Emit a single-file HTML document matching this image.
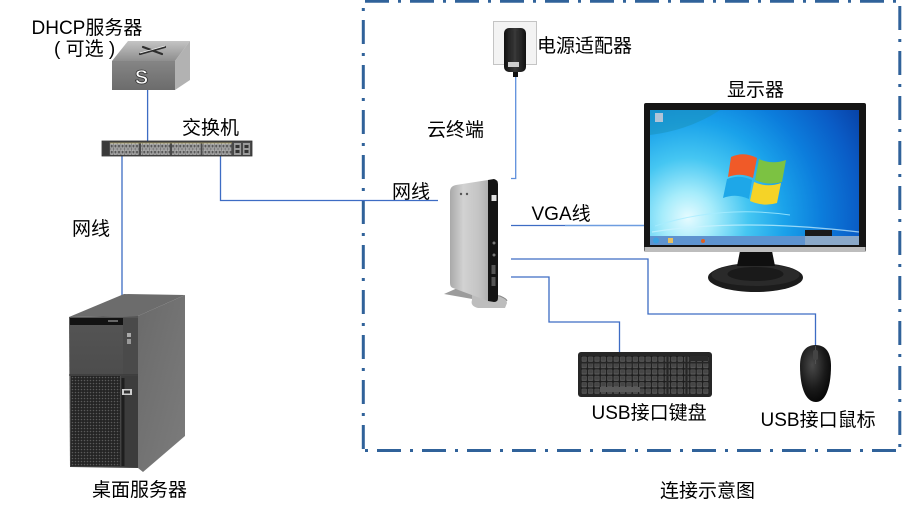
<!DOCTYPE html>
<html><head><meta charset="utf-8">
<style>
html,body{margin:0;padding:0;background:#fff;}
svg{display:block;}
text{font-family:"Liberation Sans","Noto Sans CJK SC",sans-serif;font-size:19px;fill:#000;}
</style></head><body>
<svg width="902" height="512" viewBox="0 0 902 512" xmlns="http://www.w3.org/2000/svg">
<defs>
  <radialGradient id="scr" gradientUnits="userSpaceOnUse" cx="688" cy="218" r="215">
    <stop offset="0" stop-color="#e6fbff"/>
    <stop offset="0.12" stop-color="#a6ecfb"/>
    <stop offset="0.28" stop-color="#45c6f2"/>
    <stop offset="0.45" stop-color="#1aa2ea"/>
    <stop offset="0.62" stop-color="#0c7ddc"/>
    <stop offset="0.8" stop-color="#0a5cc6"/>
    <stop offset="1" stop-color="#07389c"/>
  </radialGradient>
  <linearGradient id="silver" x1="0" y1="0" x2="1" y2="0">
    <stop offset="0" stop-color="#a9a9a9"/>
    <stop offset="0.35" stop-color="#d2d2d2"/>
    <stop offset="0.75" stop-color="#c4c4c4"/>
    <stop offset="1" stop-color="#b0b0b0"/>
  </linearGradient>
  <linearGradient id="side" x1="0" y1="0" x2="1" y2="1">
    <stop offset="0" stop-color="#6a6a6a"/>
    <stop offset="1" stop-color="#7c7c7c"/>
  </linearGradient>
  <linearGradient id="front" x1="0" y1="0" x2="0" y2="1">
    <stop offset="0" stop-color="#555"/>
    <stop offset="1" stop-color="#3f3f3f"/>
  </linearGradient>
  <linearGradient id="dtop" x1="0" y1="0" x2="0" y2="1">
    <stop offset="0" stop-color="#c4c4c4"/>
    <stop offset="1" stop-color="#8e8e8e"/>
  </linearGradient>
  <linearGradient id="dfront" x1="0" y1="0" x2="0" y2="1">
    <stop offset="0" stop-color="#858585"/>
    <stop offset="1" stop-color="#6c6c6c"/>
  </linearGradient>
  <linearGradient id="adapt" x1="0" y1="0" x2="1" y2="0">
    <stop offset="0" stop-color="#111"/>
    <stop offset="0.5" stop-color="#3a3a3a"/>
    <stop offset="1" stop-color="#111"/>
  </linearGradient>
  <radialGradient id="mouse" cx="0.4" cy="0.35" r="0.7">
    <stop offset="0" stop-color="#4a4a4a"/>
    <stop offset="0.6" stop-color="#1a1a1a"/>
    <stop offset="1" stop-color="#050505"/>
  </radialGradient>
  <pattern id="ports" patternUnits="userSpaceOnUse" x="110" y="143" width="3.6" height="6">
    <rect x="0" y="0" width="3.6" height="6" fill="#5a5a5a"/>
    <rect x="0.3" y="0.4" width="3" height="5.2" fill="#cfcfcf"/>
    <rect x="0.8" y="1.6" width="2" height="3" fill="#585858"/>
  </pattern>
  <pattern id="keys" patternUnits="userSpaceOnUse" x="581" y="356" width="6.4" height="6.4">
    <rect x="0" y="0" width="6.4" height="6.4" fill="#1c1c1c"/>
    <rect x="0.6" y="0.6" width="5.2" height="5.2" rx="0.8" fill="#5a5a5a"/>
    <rect x="1.2" y="1.1" width="4" height="3.6" rx="0.6" fill="#464646"/>
  </pattern>
  <pattern id="mesh" patternUnits="userSpaceOnUse" x="71" y="376" width="3" height="3">
    <rect width="3" height="3" fill="#242424"/>
    <circle cx="1.5" cy="1.5" r="0.8" fill="#5a5a5a"/>
  </pattern>
</defs>

<!-- dashed enclosure -->
<g stroke="#30629a" stroke-width="3" fill="none" stroke-dasharray="24 9 3 9">
  <line x1="363" y1="1.2" x2="901" y2="1.2" stroke-dashoffset="43"/>
  <line x1="363" y1="450.5" x2="901" y2="450.5" stroke-dashoffset="31"/>
  <line x1="363.3" y1="0" x2="363.3" y2="452" stroke-dashoffset="25"/>
  <line x1="899.8" y1="0" x2="899.8" y2="452" stroke-dashoffset="39"/>
</g>

<!-- connectors -->
<g fill="none" stroke="#3d6cc4" stroke-width="1.3">
  <path d="M147.6,90 V141"/>
  <path d="M122,156 V298"/>
  <path d="M220.5,156 V200.5 H438"/>
  <path d="M511,259 H648 V314 H815.5 V346"/>
  <path d="M511,277 H549 V322 H619.5 V352"/>
  <path d="M511,225.5 H565"/>
</g>
<path d="M565,225.5 H644" stroke="#6d9de0" stroke-width="1.6" fill="none"/>
<path d="M515.7,76 V178.5 H511" stroke="#5f8fdc" stroke-width="1.3" fill="none"/>

<!-- DHCP server box -->
<polygon points="112,61 175,61 190,41 128,41" fill="url(#dtop)"/>
<rect x="112" y="61" width="63" height="29" fill="url(#dfront)"/>
<polygon points="175,61 190,41 190,80 175,90" fill="#b2b2b2"/>
<g stroke="#2e2e2e" stroke-width="2.2" stroke-linecap="round">
  <line x1="140" y1="54" x2="165" y2="47"/>
  <line x1="143" y1="47" x2="162" y2="54"/>
</g>
<g stroke="#f0f0f0" stroke-width="0.8">
  <line x1="140" y1="53" x2="165" y2="46"/>
</g>
<text x="141.5" y="84" text-anchor="middle" style="font-size:20px;font-weight:bold;fill:#fff;stroke:#333;stroke-width:0.8">S</text>

<!-- switch -->
<rect x="102" y="141" width="150" height="15" fill="#4a4a4a" stroke="#2e2e2e" stroke-width="0.8"/>
<rect x="103" y="142" width="6" height="13" fill="#3a3a3a"/>
<rect x="110" y="143" width="28.8" height="12" fill="url(#ports)"/>
<rect x="141" y="143" width="28.8" height="12" fill="url(#ports)"/>
<rect x="172" y="143" width="28.8" height="12" fill="url(#ports)"/>
<rect x="202.5" y="143" width="28.8" height="12" fill="url(#ports)"/>
<rect x="110" y="142.6" width="122" height="0.8" fill="#c8b860" opacity="0.7"/>
<rect x="234" y="143" width="7" height="12" fill="#9a9a9a"/>
<rect x="243" y="143" width="7" height="12" fill="#9a9a9a"/>
<rect x="235.5" y="145" width="4" height="3" fill="#333"/><rect x="244.5" y="145" width="4" height="3" fill="#333"/>
<rect x="235.5" y="150" width="4" height="3" fill="#333"/><rect x="244.5" y="150" width="4" height="3" fill="#333"/>

<!-- server tower -->
<polygon points="69,317 138,316 185,295 124,294" fill="#6c6c6c"/>
<polygon points="138,316 185,295 185,436 143,472 138,468" fill="url(#side)"/>
<polygon points="69,317 138,316 138,468 70,467" fill="url(#front)"/>
<rect x="70" y="318" width="53" height="7" fill="#121212"/>
<rect x="108" y="320" width="10" height="2" fill="#666"/>
<rect x="123" y="318" width="15" height="57" fill="#4a4a4a"/>
<rect x="127" y="333" width="4" height="4" fill="#aaa"/>
<rect x="127" y="339" width="4" height="5" fill="#999"/>
<line x1="69" y1="375" x2="138" y2="375" stroke="#333" stroke-width="1"/>
<rect x="71" y="376" width="49" height="90" fill="url(#mesh)"/>
<rect x="121" y="376" width="17" height="91" fill="#3c3c3c"/>
<rect x="121.5" y="378" width="3" height="88" fill="#1e1e1e"/>
<rect x="122" y="389" width="10" height="6" fill="#cfcfcf"/>
<rect x="124" y="390.5" width="6" height="3" fill="#333"/>

<!-- power adapter -->
<rect x="493.5" y="21.5" width="43" height="43" fill="#f3f3f3" stroke="#c4c4c4" stroke-width="1"/>
<rect x="504" y="28" width="22" height="44" rx="5" fill="url(#adapt)"/>
<g stroke="#2a2a2a" stroke-width="0.6">
  <line x1="509" y1="31" x2="509" y2="60"/><line x1="513" y1="31" x2="513" y2="60"/>
  <line x1="517" y1="31" x2="517" y2="60"/><line x1="521" y1="31" x2="521" y2="60"/>
</g>
<rect x="508" y="62" width="11" height="5" fill="#cfcfcf"/>
<rect x="513" y="72" width="5" height="5" fill="#111"/>

<!-- thin client -->
<path d="M444,294 L462,286 L478,290 L478,300 Z" fill="#9c9c9c"/>
<path d="M472,292 L500,296 Q507,299 507,303 L505,308 L478,308 Q470,306 472,300 Z" fill="#bdbdbd"/>
<path d="M472,292 L500,296 Q507,299 507,301" stroke="#888" stroke-width="1" fill="none"/>
<path d="M450,192 Q450,186 456,185 L488,180 L488,301 L453,288 Q450,287 450,283 Z" fill="url(#silver)"/>
<path d="M488,180 L494,179 Q498,180 498,184 L498,298 Q498,302 494,302 L488,301 Z" fill="#141414"/>
<circle cx="461" cy="194" r="1.2" fill="#555"/>
<circle cx="467" cy="194" r="1.2" fill="#555"/>
<rect x="491.5" y="195" width="5" height="6" fill="#e0e0e0"/>
<circle cx="494" cy="243" r="1.5" fill="#777"/>
<circle cx="494" cy="255" r="1.5" fill="#777"/>
<rect x="491.5" y="265" width="4" height="9" fill="#555"/>
<rect x="491.5" y="277" width="4" height="9" fill="#555"/>

<!-- monitor -->
<ellipse cx="755.5" cy="277.5" rx="47.5" ry="14.5" fill="#1c1c1c"/>
<ellipse cx="755.5" cy="275" rx="44" ry="11" fill="#2a2a2a"/>
<ellipse cx="755.5" cy="274" rx="28" ry="7" fill="#1a1a1a"/>
<polygon points="740,251 772,251 775,266 737,266" fill="#0f0f0f"/>
<rect x="644" y="103" width="222" height="149" rx="2" fill="#151515"/>
<rect x="644.5" y="247" width="221" height="5" fill="#bdbdbd"/>
<rect x="650" y="110" width="209" height="135" fill="url(#scr)"/>
<path d="M650,110 H720 Q690,130 650,135 Z" fill="#1a8fb8" opacity="0.5"/>
<path d="M655,226 Q720,205 790,215" stroke="#a8ecff" stroke-width="1" fill="none" opacity="0.8"/>
<path d="M652,232 Q740,218 859,232" stroke="#cdf4ff" stroke-width="1.2" fill="none" opacity="0.7"/>
<rect x="655" y="113" width="8" height="9" fill="#b0c4d8"/>
<rect x="650" y="236" width="209" height="9" fill="#5e93cf"/>
<rect x="805" y="236" width="54" height="9" fill="#8aa8c8"/>
<rect x="805" y="230" width="27" height="6" fill="#1a1a1a"/>
<circle cx="656" cy="240.5" r="3" fill="#3aa0e0"/>
<rect x="668" y="238" width="5" height="5" fill="#e8c060"/>
<circle cx="703" cy="241" r="2" fill="#e06020"/>
<!-- windows logo -->
<path d="M731,157 Q744,151 757,158 L753,178 Q741,172 728,177 Z" fill="#f05a28"/>
<path d="M759,159 Q772,165 786,160 L782,182 Q768,186 755,180 Z" fill="#7cc242"/>
<path d="M727,179 Q740,174 752,180 L749,199 Q736,193 723,198 Z" fill="#1ea7e8"/>
<path d="M754,182 Q767,188 781,183 L777,203 Q764,207 750,201 Z" fill="#f5d327"/>

<!-- keyboard -->
<rect x="578" y="352" width="134" height="45" rx="3" fill="#262626"/>
<rect x="581" y="356" width="128" height="38" fill="url(#keys)"/>
<rect x="666.5" y="356" width="2" height="38" fill="#262626"/>
<rect x="685.5" y="356" width="2" height="38" fill="#262626"/>
<rect x="581" y="362" width="128" height="1.5" fill="#262626"/>
<rect x="600" y="387" width="40" height="5" fill="#5a5a5a"/>
<rect x="690" y="356" width="18" height="5" fill="#2a2a2a"/>

<!-- mouse -->
<path d="M815.5,345 C805,345 800,353 800,366 C800,386 805,402 816,402 C826,402 831,386 831,366 C831,353 826,345 815.5,345 Z" fill="url(#mouse)"/>
<line x1="815.5" y1="346" x2="815.5" y2="364" stroke="#555" stroke-width="0.8"/>
<rect x="813" y="350" width="5" height="10" rx="2" fill="#444"/>

<!-- labels -->
<text x="31.5" y="34">DHCP服务器</text>
<text x="54" y="55">( 可选 )</text>
<text x="182" y="134">交换机</text>
<text x="537" y="52">电源适配器</text>
<text x="427" y="136">云终端</text>
<text x="727" y="96">显示器</text>
<text x="392" y="198">网线</text>
<text x="531.5" y="220">VGA线</text>
<text x="72" y="235">网线</text>
<text x="92" y="496">桌面服务器</text>
<text x="591.5" y="419">USB接口键盘</text>
<text x="760.5" y="426">USB接口鼠标</text>
<text x="660" y="497">连接示意图</text>
</svg>
</body></html>
